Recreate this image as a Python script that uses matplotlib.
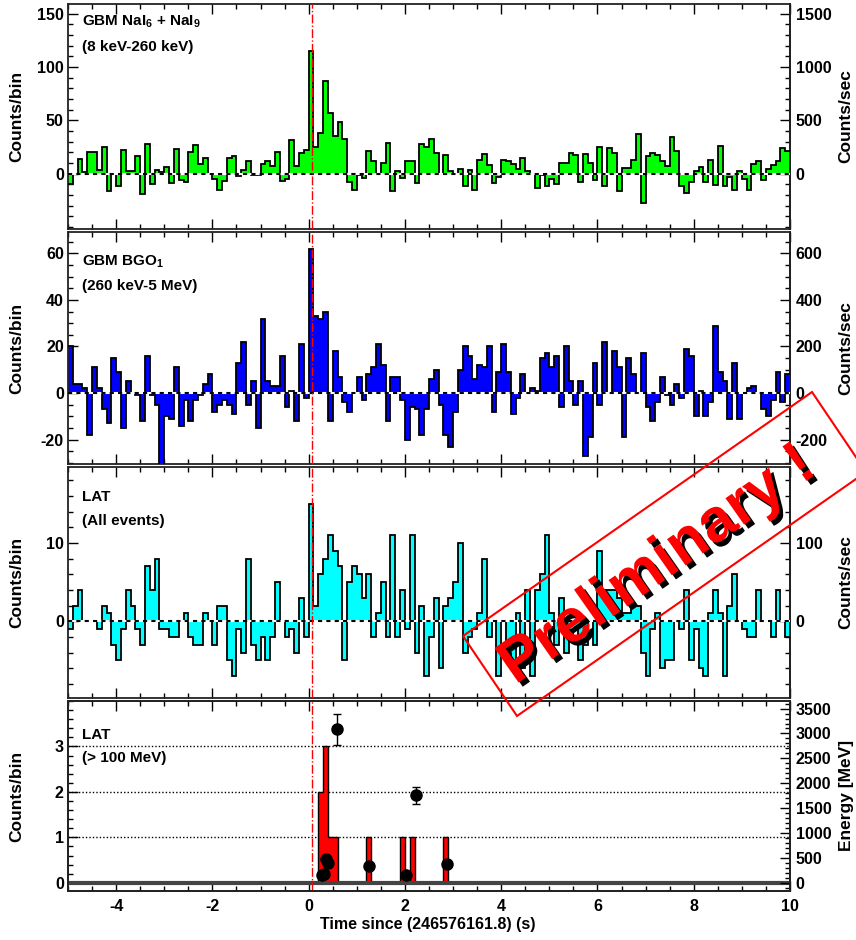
import numpy as np
import matplotlib
matplotlib.use("Agg")
import matplotlib.pyplot as plt
import matplotlib.patheffects as pe
from matplotlib.patches import Polygon
from matplotlib.ticker import MultipleLocator
from matplotlib import font_manager

# 0.1 s bins from -5 s to +10 s (counts per bin)
t_start = -5.0
bin_width = 0.1

nai_counts = [
    -10, 0, 14, 1, 20, 20, 3, 25, -16, 0,
    -12, 22, 2, 2, 16, -19, 28, -10, 3, 1,
    6, -9, 23, -6, -8, 20, 27, 9, 15, 0,
    -5, -15, -7, 15, 16, -2, 3, 12, -1, -1,
    9, 12, 7, 20, -7, -5, 31, 7, 19, 22,
    115, 25, 38, 87, 57, 35, 48, 32, -8, -15,
    -1, -4, 21, 12, 0, 10, 29, -16, 2, -4,
    12, 12, -9, 28, 25, 32, 19, 0, 17, 2,
    0, 4, -12, 3, -15, 13, 18, 8, -9, -3,
    13, 12, 9, 4, 15, 2, 0, -14, -1, -12,
    -5, -10, 10, 10, 19, 17, -8, 18, 10, -6,
    25, -12, 24, 19, -16, 5, 5, 13, 37, -28,
    16, 19, 17, 12, 7, 34, 21, -12, -18, -8,
    2, 6, -8, 13, -11, 26, -12, -3, -15, 2,
    -5, -15, 9, 12, -6, 4, 8, 12, 24, 21,
]

bgo_counts = [
    20, 4, 4, 2, -18, 11, 2, -7, -13, 15,
    9, -15, 5, 0, -1, -12, 16, -1, -5, -31,
    -10, -11, 11, -14, -3, -12, -3, -1, 4, 8,
    -8, -5, -3, -5, -9, 13, 22, -5, 5, -15,
    32, 5, 3, 3, 16, -6, 1, -12, 21, -2,
    62, 33, 32, 35, -12, 18, 7, -4, -8, 0,
    7, -3, 8, 11, 21, 12, -12, 7, 7, -3,
    -20, -6, -7, -18, -7, 6, 10, -5, -18, -23,
    -8, 10, 20, 16, 6, 12, 11, 20, -8, 9,
    21, 9, -9, -2, 8, 0, 2, 1, 15, 17,
    11, 16, -6, 20, 5, -5, 5, -27, -19, 13,
    -5, 22, 0, 18, 11, -19, 15, 8, 0, 17,
    -6, -12, -4, 7, -1, -5, 4, -2, 19, 16,
    -10, 1, -10, -4, 29, 9, 5, -11, 13, -11,
    0, 2, 3, 0, -7, -10, -3, 9, -4, 8,
]

lat_counts = [
    -1, 2, 4, 0, 0, 0, -1, 2, 1, -3,
    -5, -1, 4, 2, -1, -3, 7, 4, 8, -1,
    -1, -2, -2, 0, 1, -2, -3, -3, 1, 0,
    -3, 2, 2, -5, -7, -1, -4, 8, -3, -5,
    -2, -5, -2, 5, 0, -2, -1, -4, 3, -2,
    15, 2, 6, 8, 11, 9, 7, -5, 5, 7,
    6, 3, 6, -2, 1, 5, -2, 11, -2, 4,
    -1, 11, -4, 2, -7, -2, 3, -6, 2, 3,
    5, 10, -4, -2, -1, 1, 8, -2, 0, -7,
    0, -4, -5, 1, -6, 4, -7, 4, 6, 11,
    1, -3, 3, -4, -2, -1, -5, -3, 0, -3,
    9, 4, 4, 4, 3, 1, 1, 2, 2, -4,
    -7, -1, 1, -6, -5, -5, 0, -1, 4, -5,
    -1, -6, -7, 1, 4, 1, -7, 2, 6, 0,
    -1, -2, -2, 4, 0, 0, -2, 4, 0, -2,
]

# LAT > 100 MeV: non-empty bins (bin start time, counts)
lat_hi_bin_start = [0.2, 0.3, 0.4, 0.5, 1.2, 1.9, 2.1, 2.8]
lat_hi_bin_counts = [2, 3, 1, 1, 1, 1, 1, 1]

# individual photon energies
photon_time = [0.28, 0.31, 0.37, 0.40, 0.58, 1.26, 2.03, 2.22, 2.87]
photon_energy = [150, 175, 470, 390, 3080, 340, 154, 1760, 374]
photon_err = [20, 20, 40, 40, 320, 35, 20, 170, 35]

trigger_time = 0.07

edges = t_start + bin_width * np.arange(len(nai_counts) + 1)
lat_hi = np.zeros(len(nai_counts))
for ts, c in zip(lat_hi_bin_start, lat_hi_bin_counts):
    lat_hi[int(round((ts - t_start) / bin_width))] = c

names = {f.name for f in font_manager.fontManager.ttflist}
narrow = "Liberation Sans Narrow" if "Liberation Sans Narrow" in names else "Liberation Sans"
plt.rcParams["font.family"] = [narrow, "DejaVu Sans"]
plt.rcParams["font.weight"] = "bold"
plt.rcParams["mathtext.default"] = "regular"
plt.rcParams["axes.unicode_minus"] = False

W, H = 856, 940
fig = plt.figure(figsize=(W / 100, H / 100), dpi=100)
fig.patch.set_facecolor("white")


def px(x, y):
    return (x / W, 1 - y / H)


def add_panel(top, bottom, left=68, right=790):
    return fig.add_axes([left / W, 1 - bottom / H, (right - left) / W, (bottom - top) / H])


def style_axis(ax, yticks, yminor, bottom_labels=False):
    ax.set_xlim(-5, 10)
    ax.xaxis.set_major_locator(MultipleLocator(2))
    ax.xaxis.set_minor_locator(MultipleLocator(0.5))
    ax.set_yticks(yticks)
    ax.yaxis.set_minor_locator(MultipleLocator(yminor))
    ax.tick_params(which="both", direction="in", top=True, right=False,
                   labelsize=11.5, pad=3, width=1)
    ax.tick_params(which="major", length=7)
    ax.tick_params(which="minor", length=3.5)
    ax.tick_params(axis="x", labelbottom=bottom_labels)
    for s in ax.spines.values():
        s.set_linewidth(1.3)
        s.set_color("#222222")
    ax.axvline(trigger_time, color="red", lw=1, ls="-.", zorder=5)


def rate_axis(ax, ticks, minor):
    sec = ax.secondary_yaxis("right", functions=(lambda y: y / bin_width,
                                                  lambda y: y * bin_width))
    sec.set_yticks(ticks)
    sec.yaxis.set_minor_locator(MultipleLocator(minor))
    sec.tick_params(which="both", direction="in", labelsize=11.5, pad=4, width=1)
    sec.tick_params(which="major", length=7)
    sec.tick_params(which="minor", length=3.5)
    sec.spines["right"].set_linewidth(1.3)
    return sec


def draw_hist(ax, values, color):
    ax.stairs(values, edges, fill=True, color=color, baseline=0, zorder=2)
    ax.stairs(values, edges, baseline=None, color="black", lw=1.3, zorder=3)
    ax.axhline(0, color="white", lw=1.5, zorder=4)
    ax.axhline(0, color="black", lw=1.5, ls=(0, (2, 2)), zorder=4)


panels = [(4, 229), (232, 464), (467, 698), (701, 891)]

# GBM NaI
ax1 = add_panel(*panels[0])
draw_hist(ax1, nai_counts, "#00ff00")
ax1.set_ylim(-52, 159)
style_axis(ax1, [0, 50, 100, 150], 10)
rate_axis(ax1, [0, 500, 1000, 1500], 100)

# GBM BGO
ax2 = add_panel(*panels[1])
draw_hist(ax2, bgo_counts, "#0000ff")
ax2.set_ylim(-30.5, 69.2)
style_axis(ax2, [-20, 0, 20, 40, 60], 5)
rate_axis(ax2, [-200, 0, 200, 400, 600], 50)

# LAT all events
ax3 = add_panel(*panels[2])
draw_hist(ax3, lat_counts, "#00ffff")
ax3.set_ylim(-9.8, 19.7)
style_axis(ax3, [0, 10], 2)
rate_axis(ax3, [0, 100], 20)

# LAT > 100 MeV
ax4 = add_panel(*panels[3])
ylim4 = (-0.18, 4.0)
mev_per_count = 913
for lvl in [1, 2, 3]:
    ax4.axhline(lvl, color="black", lw=1, ls=(0, (1, 1.5)), zorder=1)
ax4.stairs(lat_hi, edges, fill=True, color="#ff0000", baseline=0, zorder=2)
ax4.stairs(lat_hi, edges, baseline=0, color="black", lw=1, zorder=3)
ax4.axhline(0, color="#444444", lw=3, zorder=4)
ax4.set_ylim(*ylim4)
style_axis(ax4, [0, 1, 2, 3], 0.2, bottom_labels=True)
ax4.set_xticks([-4, -2, 0, 2, 4, 6, 8, 10])
ax4.tick_params(axis="x", pad=6)

ax4r = ax4.twinx()
ax4r.set_ylim(ylim4[0] * mev_per_count, ylim4[1] * mev_per_count)
ax4r.set_yticks([0, 500, 1000, 1500, 2000, 2500, 3000, 3500])
ax4r.yaxis.set_minor_locator(MultipleLocator(100))
ax4r.tick_params(which="both", direction="in", labelsize=11.5, pad=4, width=1)
ax4r.tick_params(which="major", length=7)
ax4r.tick_params(which="minor", length=3.5)
ax4r.errorbar(photon_time, photon_energy, yerr=photon_err, fmt="o", color="black",
              ms=8, elinewidth=1, capsize=3, zorder=6)
for s in ax4r.spines.values():
    s.set_linewidth(1.3)
    s.set_color("#222222")

# panel captions
captions = [
    ("GBM NaI$_6$ + NaI$_9$", 22), ("(8 keV-260 keV)", 47),
    ("GBM BGO$_1$", 262), ("(260 keV-5 MeV)", 286),
    ("LAT", 497), ("(All events)", 521),
    ("LAT", 735), ("(> 100 MeV)", 758),
]
for txt, y in captions:
    fig.text(*px(82, y), txt, fontsize=11, ha="left", va="center")

# axis titles
for (top, bottom) in panels:
    fig.text(*px(17, (top + bottom) / 2), "Counts/bin", rotation=90, fontsize=12.5,
             ha="center", va="center", family="Liberation Sans")
for (top, bottom) in panels[:3]:
    fig.text(*px(846, (top + bottom) / 2), "Counts/sec", rotation=90, fontsize=12.5,
             ha="center", va="center", family="Liberation Sans")
fig.text(*px(846, 795), "Energy [MeV]", rotation=90, fontsize=12.5,
         ha="center", va="center", family="Liberation Sans")
fig.text(*px(428, 925), "Time since (246576161.8) (s)", fontsize=11.5,
         ha="center", va="center")

# "Preliminary !" stamp
corners = [(463, 636), (517, 716), (866, 472), (812, 392)]
stamp = Polygon([px(x, y) for x, y in corners], closed=True, fill=False,
                edgecolor="red", lw=1.5, transform=fig.transFigure, clip_on=False)
fig.add_artist(stamp)
fig.text(*px(658, 566), "Preliminary !", rotation=35, rotation_mode="anchor",
         ha="center", va="center", color="red", fontsize=44, fontweight="bold",
         family="Liberation Sans",
         path_effects=[pe.withSimplePatchShadow(offset=(3, -3),
                                                shadow_rgbFace="black", alpha=1)])

fig.savefig("out.png", dpi=100)
